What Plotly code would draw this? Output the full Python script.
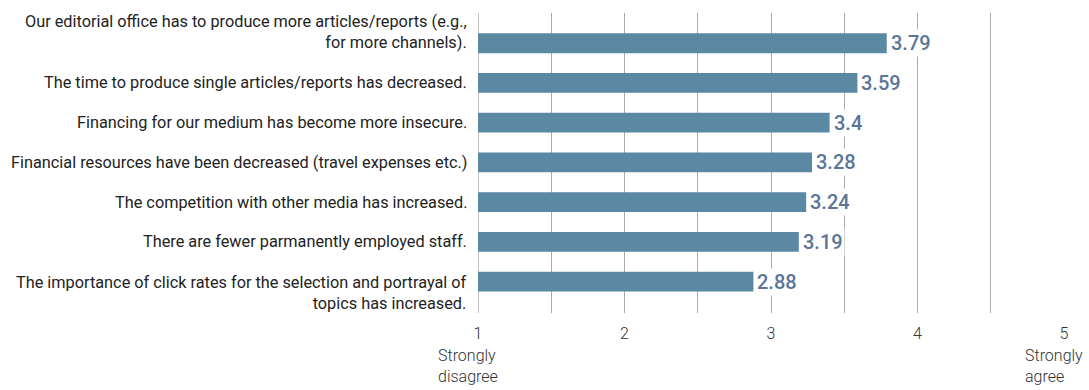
import plotly.graph_objects as go

categories = [
    "Our editorial office has to produce more articles/reports (e.g.,<br>for more channels).",
    "The time to produce single articles/reports has decreased.",
    "Financing for our medium has become more insecure.",
    "Financial resources have been decreased (travel expenses etc.)",
    "The competition with other media has increased.",
    "There are fewer parmanently employed staff.",
    "The importance of click rates for the selection and portrayal of<br>topics has increased.",
]
values = [3.79, 3.59, 3.4, 3.28, 3.24, 3.19, 2.88]
value_labels = ["3.79", "3.59", "3.4", "3.28", "3.24", "3.19", "2.88"]
tick_vals = [1, 2, 3, 4, 5]
tick_text = ["1", "2", "3", "4", "5"]
scale_notes = {1: "Strongly<br>disagree", 5: "Strongly<br>agree"}

FONT = "Roboto, sans-serif"
ypos = list(range(len(categories)))
# vertical offset (px) of the category label blocks, as in the original
label_shift = [11, 0, 0, 0, 0, 0, -11]

fig = go.Figure()
fig.add_trace(go.Bar(
    y=ypos, x=[v - 1 for v in values], base=1, orientation="h",
    marker=dict(color="#5b89a3", line=dict(width=0)),
    width=0.5, hoverinfo="skip",
))

for yi, c, s in zip(ypos, categories, label_shift):
    fig.add_annotation(x=0, xref="paper", y=yi, yref="y", text=c,
                       showarrow=False, xanchor="right", align="right",
                       xshift=-9, yshift=s,
                       font=dict(family=FONT, size=16.3, color="#222"))

for yi, v, t in zip(ypos, values, value_labels):
    fig.add_annotation(x=v, y=yi, text=t, showarrow=False, xanchor="left",
                       xshift=2, bgcolor="white", borderpad=1,
                       font=dict(family=FONT, size=20, color="#5a7598", weight=500))

for xv, txt in scale_notes.items():
    fig.add_annotation(x=xv, xref="x", y=0, yref="paper", yanchor="top",
                       yshift=-31, xshift=-10, text=txt, showarrow=False,
                       align="left", font=dict(family=FONT, size=16, color="#333", weight=300))

fig.update_layout(
    width=1089, height=390,
    margin=dict(l=478, r=25, t=13, b=77, autoexpand=False),
    plot_bgcolor="white", paper_bgcolor="white",
    showlegend=False,
    font=dict(family=FONT, size=16, color="#222"),
    xaxis=dict(range=[1, 5], tickvals=tick_vals, ticktext=tick_text,
               showgrid=True, gridcolor="#ababab", gridwidth=1,
               minor=dict(tickvals=[1.5, 2.5, 3.5, 4.5], showgrid=True,
                          gridcolor="#ababab", gridwidth=1),
               zeroline=False, showline=False, automargin=False,
               ticks="", ticklabelstandoff=9,
               tickfont=dict(family=FONT, size=16, color="#333", weight=300)),
    yaxis=dict(range=[6.79, -0.76], tickvals=ypos, showticklabels=False,
               showgrid=False, zeroline=False, showline=False, automargin=False,
               ticks=""),
)
fig.add_vline(x=1, line_color="#888", line_width=1, layer="below")

fig.write_html("out.html")
